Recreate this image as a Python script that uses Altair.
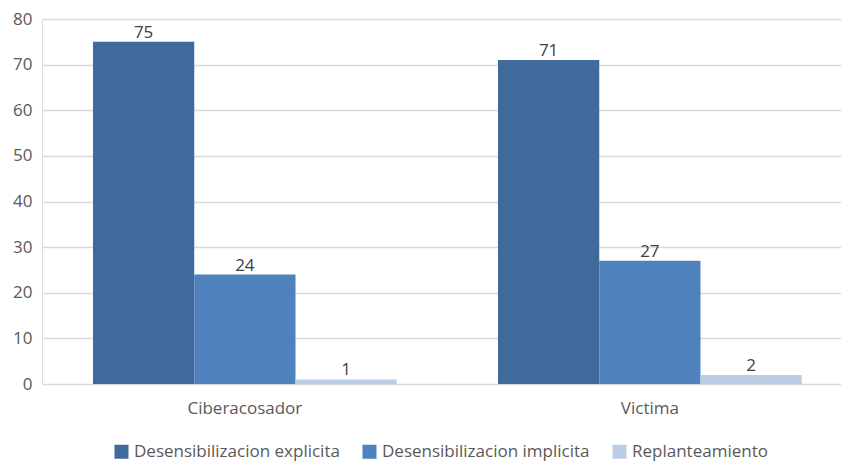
import altair as alt
import pandas as pd

# Grouped bar chart: desensitisation responses by role
groups = ["Ciberacosador", "Victima"]
series = ["Desensibilizacion explicita", "Desensibilizacion implicita", "Replanteamiento"]
explicita = [75, 71]
implicita = [24, 27]
replanteamiento = [1, 2]
colors = ["#40699c", "#4f81bd", "#b9cde5"]

rows = []
for i, g in enumerate(groups):
    for s, vals in zip(series, [explicita, implicita, replanteamiento]):
        rows.append({"grupo": g, "serie": s, "valor": vals[i]})
df = pd.DataFrame(rows)

FONT = "Open Sans"
FS = 17

base = alt.Chart(df).encode(
    x=alt.X(
        "grupo:N",
        sort=groups,
        title=None,
        scale=alt.Scale(paddingInner=0.25, paddingOuter=0.1114, align=0.565),
        axis=alt.Axis(
            labelAngle=0, ticks=False, domain=False, labelPadding=16,
            labelFontSize=FS, labelColor="#595959", labelFont=FONT,
        ),
    ),
    xOffset=alt.XOffset("serie:N", sort=series,
                        scale=alt.Scale(paddingInner=0, paddingOuter=0)),
    y=alt.Y(
        "valor:Q",
        title=None,
        scale=alt.Scale(domain=[0, 80], nice=False),
        axis=alt.Axis(
            values=list(range(0, 81, 10)), ticks=False, domain=False,
            labelPadding=10, labelFontSize=FS, labelColor="#595959",
            labelFont=FONT, gridColor="#d9d9d9", gridWidth=1.5,
        ),
    ),
)

bars = base.mark_bar().encode(
    color=alt.Color(
        "serie:N",
        sort=series,
        scale=alt.Scale(domain=series, range=colors),
        legend=alt.Legend(
            title=None, orient="none", direction="horizontal",
            legendX=71, legendY=424, symbolType="square", symbolSize=196,
            symbolStrokeWidth=0, symbolOpacity=1, labelFontSize=FS,
            labelColor="#595959", labelFont=FONT, columnPadding=21,
            labelOffset=4, padding=0, labelLimit=400,
        ),
    )
)

labels = base.mark_text(
    dy=-4, baseline="alphabetic", fontSize=FS, font=FONT, color="#404040"
).encode(text="valor:Q")

chart = (
    alt.layer(bars, labels)
    .properties(
        width=799, height=365, autosize="none",
        padding={"left": 42, "top": 19, "right": 0, "bottom": 79},
    )
    .configure_view(stroke=None)
    .configure(background="white")
)

chart.save("out.html", embed_options={"renderer": "svg", "actions": False})
